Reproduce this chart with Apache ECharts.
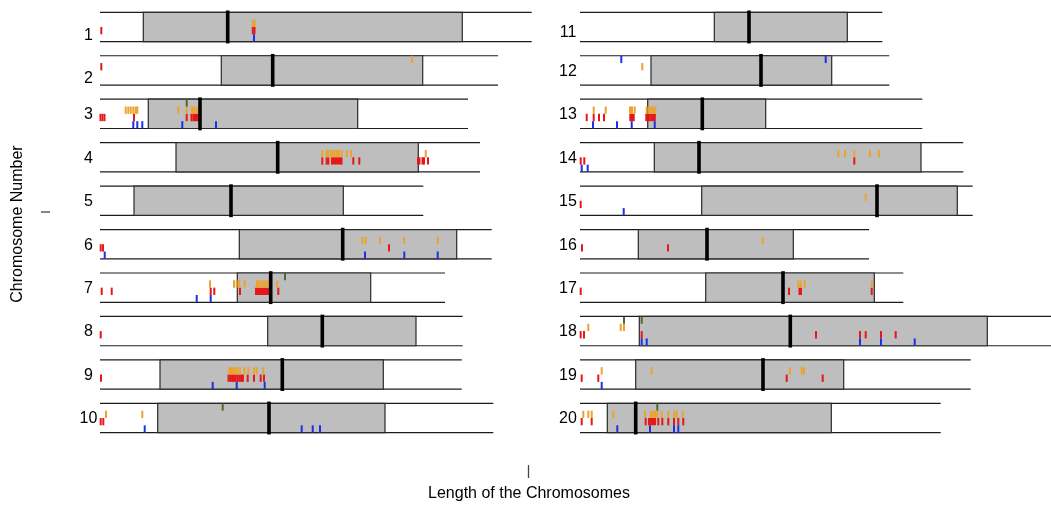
<!DOCTYPE html>
<html><head><meta charset="utf-8">
<script src="https://cdn.jsdelivr.net/npm/echarts@6/dist/echarts.min.js"></script>
<style>html,body{margin:0;padding:0;background:#fff}#c{width:1051px;height:505px}</style>
</head><body><div id="c"></div>
<script>
// ---- data ----
const chromosomes = ['1','2','3','4','5','6','7','8','9','10','11','12','13','14','15','16','17','18','19','20'];
const chromLength = [431.7, 398, 368, 380, 323.3, 391.7, 345, 362.7, 361.7, 393.3, 302.3, 309.3, 342.3, 383.3, 392.7, 289, 323.3, 480, 390.7, 360.7];
const regionStart = [43.3, 121.3, 48.3, 76, 34, 139.3, 137.3, 167.7, 60, 57.7, 134.3, 71, 67.7, 74.3, 121.7, 58.3, 125.7, 59.3, 55.7, 27.3];
const regionEnd = [362.3, 322.7, 257.7, 318.3, 243.3, 356.7, 270.7, 316, 283.3, 285, 267.3, 251.7, 185.7, 341, 377.3, 213.3, 294.3, 407.3, 263.7, 251.3];
const centromere = [127.7, 172.7, 100, 177.7, 131, 242.7, 170.7, 222.3, 182.3, 169, 169, 181, 122.3, 119, 297, 127, 203, 210.3, 183, 55.7];

// markers: [chromosome, position, lane]
const redMarks = [
 [1,1.3,2],[1,152.8,2],[1,154.5,2],
 [2,1.3,1],
 [3,0.5,2],[3,2.5,2],[3,4.5,2],[3,34,2],[3,86.7,2],[3,91.5,2],[3,93.5,2],[3,95,2],[3,97,2],[3,99,2],
 [4,222.3,2],[4,226.7,2],[4,228.3,2],[4,232,2],[4,234,2],[4,236,2],[4,238,2],[4,240,2],[4,241.5,2],[4,253.3,2],[4,259.3,2],[4,318,2],[4,319.5,2],[4,322.5,2],[4,324,2],[4,328,2],
 [6,0.7,2],[6,3,2],[6,289,2],
 [7,1.7,2],[7,11.7,2],[7,110.7,2],[7,114.3,2],[7,140,2],[7,156,2],[7,158,2],[7,160,2],[7,162,2],[7,164,2],[7,166,2],[7,168,2],[7,178.3,2],
 [8,0.7,2],
 [9,1,2],[9,128.5,2],[9,130.3,2],[9,132.1,2],[9,133.9,2],[9,135.7,2],[9,137.5,2],[9,139.3,2],[9,141.1,2],[9,142.9,2],[9,147.7,2],[9,154,2],[9,160.7,2],[9,164,2],
 [10,0.7,2],[10,3.3,2],
 [13,6.7,2],[13,13.7,2],[13,19,2],[13,24,2],[13,50.3,2],[13,52,2],[13,53.7,2],[13,66.3,2],[13,68,2],[13,69.7,2],[13,71.4,2],[13,73.1,2],[13,74.8,2],
 [14,0.7,2],[14,4.3,2],[14,274.3,2],
 [15,0.7,2],
 [16,2,2],[16,88,2],
 [17,0.7,2],[17,209,2],[17,219.5,2],[17,221,2],[17,291.7,2],
 [18,0.7,2],[18,4,2],[18,61.7,2],[18,236,2],[18,280,2],[18,285.7,2],[18,301,2],[18,315.7,2],
 [19,1.7,2],[19,18.3,2],[19,206.7,2],[19,242.7,2],
 [20,1.7,2],[20,11.7,2],[20,65.7,2],[20,69,2],[20,71,2],[20,73,2],[20,75,2],[20,78.3,2],[20,82.3,2],[20,88.3,2],[20,94,2],[20,98.3,2],[20,103.3,2]
];
const orangeMarks = [
 [1,152.8,1],[1,154.5,1],
 [2,312,0],
 [3,25.7,1],[3,28.3,1],[3,30.7,1],[3,33.3,1],[3,35.7,1],[3,37.3,1],[3,78.3,1],[3,86.7,1],[3,92,1],[3,94,1],[3,96.7,1],[3,98.7,1],
 [4,222.3,1],[4,226.7,1],[4,228.3,1],[4,230.7,1],[4,232.3,1],[4,234.3,1],[4,236.7,1],[4,239,1],[4,241.7,1],[4,246.7,1],[4,251,1],[4,325.7,1],
 [6,262.3,1],[6,265.7,1],[6,280,1],[6,304.3,1],[6,337.7,1],
 [7,110,1],[7,134,1],[7,136.7,1],[7,139.3,1],[7,144.7,1],[7,157,1],[7,158.7,1],[7,160.7,1],[7,163.3,1],[7,165.3,1],[7,167.7,1],[7,169.3,1],[7,177.3,1],
 [9,129.3,1],[9,131,1],[9,133,1],[9,135,1],[9,137.3,1],[9,140,1],[9,144.3,1],[9,148.3,1],[9,154,1],[9,156.7,1],[9,163.3,1],
 [10,6,1],[10,42.3,1],
 [12,62.3,1],
 [13,13.7,1],[13,25.7,1],[13,50,1],[13,52,1],[13,54.7,1],[13,66.7,1],[13,69,1],[13,71.3,1],[13,73.3,1],[13,75.3,1],
 [14,258.3,1],[14,265,1],[14,274.3,1],[14,290,1],[14,299,1],
 [15,285.7,1],
 [16,182.7,1],
 [17,218.3,1],[17,220.7,1],[17,224.7,1],[17,291.7,1],
 [18,8.3,1],[18,40.7,1],[18,44,1],
 [19,21.7,1],[19,71.7,1],[19,210,1],[19,221.7,1],[19,224,1],
 [20,3.3,1],[20,8.3,1],[20,11.7,1],[20,33.3,1],[20,65,1],[20,70.7,1],[20,72.7,1],[20,75,1],[20,77.3,1],[20,81.7,1],[20,88.3,1],[20,94.3,1],[20,96.7,1],[20,102.7,1]
];
const blueMarks = [
 [1,154,3],
 [3,33.3,3],[3,37.3,3],[3,42.3,3],[3,82.3,3],[3,116,3],
 [6,4.7,3],[6,265,3],[6,304.3,3],[6,337.7,3],
 [7,96.7,3],[7,110.7,3],
 [9,112.7,3],[9,136.7,3],[9,164.7,3],
 [10,44.7,3],[10,201.7,3],[10,212.7,3],[10,220,3],
 [12,41.3,0],[12,245.7,0],
 [13,13,3],[13,37,3],[13,51.7,3],[13,74.7,3],
 [14,1.7,3],[14,7.7,3],
 [15,43.7,3],
 [18,61.7,3],[18,66.7,3],[18,280,3],[18,301,3],[18,334.7,3],
 [19,21.7,3],
 [20,37.3,3],[20,70,3],[20,94,3],[20,98.3,3]
];
const greenMarks = [[3,86.7,0],[7,185,0],[10,122.7,0],[18,44,0],[18,61.7,0],[20,77.3,0]];

const xTitle = 'Length of the Chromosomes';
const yTitle = 'Chromosome Number';

// ---- drawing ----
const TRACK = 0.674, LANE = TRACK / 4;
const FONT = '"Liberation Sans", Arial, Helvetica, sans-serif';
const labelShift = {'1': 7.5, '2': 7, '11': 5};

function colOf(ch) { return ch <= 10 ? 0 : 1; }
function rowOf(ch) { return (ch - 1) % 10; }

function chromData(col) {
  const out = [];
  chromosomes.forEach((name, i) => {
    const ch = i + 1;
    if (colOf(ch) === col) out.push([rowOf(ch), chromLength[i], regionStart[i], regionEnd[i], centromere[i], name]);
  });
  return out;
}
function markData(list, col) {
  return list.filter(m => colOf(m[0]) === col).map(m => [m[1], rowOf(m[0]), m[2]]);
}

function renderChrom(params, api) {
  const r = api.value(0), len = api.value(1), s = api.value(2), e = api.value(3);
  const p0 = api.coord([0, r]), p1 = api.coord([len, r + TRACK]);
  const rs = api.coord([s, r]), re = api.coord([e, r + TRACK]);
  const stroke = '#1c1c1c';
  return {type: 'group', children: [
    {type: 'line', shape: {x1: p0[0], y1: p0[1], x2: p1[0], y2: p0[1]}, style: {stroke: stroke, lineWidth: 1.2}},
    {type: 'line', shape: {x1: p0[0], y1: p1[1], x2: p1[0], y2: p1[1]}, style: {stroke: stroke, lineWidth: 1.2}},
    {type: 'rect', shape: {x: rs[0], y: rs[1], width: re[0] - rs[0], height: re[1] - rs[1]}, style: {fill: '#bebebe', stroke: '#2a2a2a', lineWidth: 1.2}}
  ]};
}
function renderCen(params, api) {
  const r = api.value(0), c = api.value(4);
  const a = api.coord([c, r]), b = api.coord([c, r + TRACK]);
  return {type: 'line', shape: {x1: a[0], y1: a[1] - 1.8, x2: b[0], y2: b[1] + 1.8}, style: {stroke: '#000', lineWidth: 3.6}};
}
function renderLabel(params, api) {
  const r = api.value(0), name = chromosomes[params.dataIndex + (params.seriesName === 'labelsR' ? 10 : 0)];
  const p = api.coord([0, r + TRACK / 2]);
  const dx = params.seriesName === 'labelsR' ? 12 : 11.5;
  return {type: 'text', x: p[0] - dx, y: p[1] + 1 + (labelShift[name] || 0), style: {text: name, fill: '#000', font: '16px ' + FONT, align: 'center', verticalAlign: 'middle'}};
}
function markRenderer(color) {
  return function (params, api) {
    const x = api.value(0), r = api.value(1), lane = api.value(2);
    const a = api.coord([x, r + lane * LANE]), b = api.coord([x, r + (lane + 1) * LANE]);
    return {type: 'rect', shape: {x: a[0] - 1, y: a[1], width: 2, height: b[1] - a[1]}, style: {fill: color}};
  };
}

const colors = {red: '#e41818', orange: '#eba22e', blue: '#1f2fe6', green: '#4f6b2a'};
const series = [];
[0, 1].forEach(col => {
  const cd = chromData(col);
  series.push({type: 'custom', name: 'chrom' + col, xAxisIndex: col, yAxisIndex: col, clip: false, z: 1, renderItem: renderChrom, data: cd, silent: true});
  series.push({type: 'custom', name: col ? 'labelsR' : 'labelsL', xAxisIndex: col, yAxisIndex: col, clip: false, z: 1, renderItem: renderLabel, data: cd, silent: true});
  [['red', redMarks], ['orange', orangeMarks], ['blue', blueMarks], ['green', greenMarks]].forEach(([k, list]) => {
    series.push({type: 'custom', name: k + col, xAxisIndex: col, yAxisIndex: col, clip: false, z: 2, renderItem: markRenderer(colors[k]), data: markData(list, col), encode: {x: 0, y: 1}, silent: true});
  });
  series.push({type: 'custom', name: 'cen' + col, xAxisIndex: col, yAxisIndex: col, clip: false, z: 3, renderItem: renderCen, data: cd, silent: true});
});

const chart = echarts.init(document.getElementById('c'), null, {renderer: 'canvas'});
chart.setOption({
  animation: false,
  backgroundColor: '#fff',
  grid: [
    {left: 100, top: 12.3, width: 440, height: 434.5},
    {left: 580, top: 12.3, width: 471, height: 434.5}
  ],
  xAxis: [
    {gridIndex: 0, type: 'value', min: 0, max: 440, show: false},
    {gridIndex: 1, type: 'value', min: 0, max: 471, show: false}
  ],
  yAxis: [
    {gridIndex: 0, type: 'value', min: 0, max: 10, inverse: true, show: false},
    {gridIndex: 1, type: 'value', min: 0, max: 10, inverse: true, show: false}
  ],
  series: series,
  graphic: [
    {type: 'text', x: 529, y: 494, style: {text: xTitle, font: '16px ' + FONT, fill: '#000', align: 'center', verticalAlign: 'middle'}},
    {type: 'text', x: 18, y: 224, rotation: Math.PI / 2, style: {text: yTitle, font: '16px ' + FONT, fill: '#000', align: 'center', verticalAlign: 'middle'}},
    {type: 'line', shape: {x1: 528.5, y1: 465, x2: 528.5, y2: 478}, style: {stroke: '#444', lineWidth: 1.3}},
    {type: 'line', shape: {x1: 41, y1: 212, x2: 50, y2: 212}, style: {stroke: '#444', lineWidth: 1.3}}
  ]
});
</script></body></html>
